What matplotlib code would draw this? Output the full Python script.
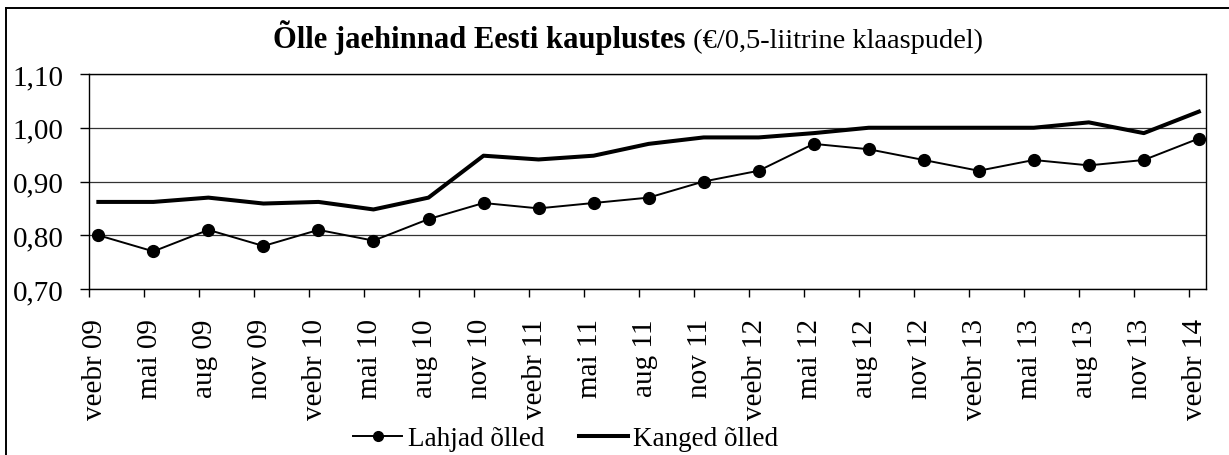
import matplotlib
matplotlib.use("Agg")
import matplotlib.pyplot as plt
from matplotlib.lines import Line2D
import matplotlib.transforms as mtransforms

plt.rcParams['font.family'] = ['Liberation Serif', 'DejaVu Serif']

categories = ["veebr 09", "mai 09", "aug 09", "nov 09", "veebr 10", "mai 10", "aug 10",
              "nov 10", "veebr 11", "mai 11", "aug 11", "nov 11", "veebr 12", "mai 12",
              "aug 12", "nov 12", "veebr 13", "mai 13", "aug 13", "nov 13", "veebr 14"]
lahjad = [0.80, 0.77, 0.81, 0.78, 0.81, 0.79, 0.83, 0.86, 0.85, 0.86, 0.87, 0.90,
          0.92, 0.97, 0.96, 0.94, 0.92, 0.94, 0.93, 0.94, 0.98]
kanged = [0.862, 0.862, 0.870, 0.859, 0.862, 0.848, 0.870, 0.948, 0.941, 0.948, 0.970,
          0.982, 0.982, 0.990, 1.00, 1.00, 1.00, 1.00, 1.01, 0.99, 1.03]
yticks = [0.70, 0.80, 0.90, 1.00, 1.10]
ytick_labels = ["0,70", "0,80", "0,90", "1,00", "1,10"]

W, H = 1229, 456
fig = plt.figure(figsize=(W / 100, H / 100), dpi=100)
# outer frame (left and top edges visible)
fig.add_artist(Line2D([5.5 / W, 5.5 / W], [0, (H - 9) / H], transform=fig.transFigure,
                      color='black', lw=1.4))
fig.add_artist(Line2D([5.5 / W, 1], [(H - 9) / H, (H - 9) / H], transform=fig.transFigure,
                      color='black', lw=1.4))

left, right, top, bottom = 89, 1206, 75, 290
ax = fig.add_axes([left / W, (H - bottom) / H, (right - left) / W, (bottom - top) / H])

xpos = list(range(len(categories)))
offset = 0.17
xs = [x + offset for x in xpos]

ax.plot(xs, kanged, color='black', lw=2.9, solid_joinstyle='round', zorder=3)
ax.plot(xs, lahjad, color='black', lw=1.4, marker='o', markersize=8.5, zorder=4)

ax.set_ylim(0.70, 1.10)
ax.set_xlim(0, 20.3)
ax.set_yticks(yticks)
ax.set_yticklabels(ytick_labels, fontsize=21)
ax.set_xticks(xpos)
ax.set_xticklabels(categories, rotation=90, fontsize=21)
ax.tick_params(axis='y', length=6.5, width=1, direction='out', pad=12)
ax.tick_params(axis='x', length=6, width=1, direction='out', pad=15)
shift = mtransforms.ScaledTranslation(6 / 100, 0, fig.dpi_scale_trans)
for lab in ax.get_xticklabels():
    lab.set_transform(lab.get_transform() + shift)
for sp in ax.spines.values():
    sp.set_linewidth(1.0)
    sp.set_color('black')
ax.grid(axis='y', color='#333333', lw=0.9)
ax.set_axisbelow(True)

# Title with mixed weight
fig.canvas.draw()
r = fig.canvas.get_renderer()
t1 = fig.text(0, 0, "Õlle jaehinnad Eesti kauplustes", fontsize=22, fontweight='bold')
t2 = fig.text(0, 0, " (€/0,5-liitrine klaaspudel)", fontsize=20.5)
w1 = t1.get_window_extent(r).width
w2 = t2.get_window_extent(r).width
cx = 628
x0 = cx - (w1 + w2) / 2
ty = H - 48
t1.set_position((x0 / W, ty / H))
t2.set_position(((x0 + w1) / W, ty / H))

handles = [Line2D([], [], color='black', lw=1.4, marker='o', markersize=7),
           Line2D([], [], color='black', lw=2.9)]
fig.legend(handles, ['Lahjad õlled', 'Kanged õlled'], loc='center',
           bbox_to_anchor=(566 / W, (H - 440) / H), ncol=2, frameon=False, fontsize=19.5,
           handlelength=1.8, handletextpad=0.2, columnspacing=1.3, borderpad=0)

fig.savefig("out.png", dpi=100)
